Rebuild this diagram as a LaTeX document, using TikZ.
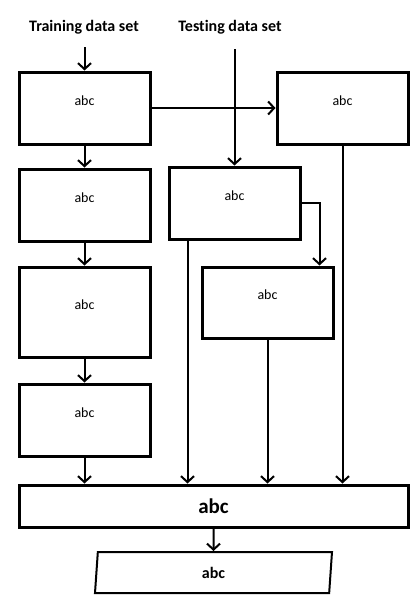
\documentclass[tikz,border=0pt]{standalone}
\usepackage{fontspec}
\setmainfont{Carlito}[Ligatures=NoCommon]
\usetikzlibrary{positioning,arrows.meta,shapes.geometric}
\tikzset{x=1pt, y=-1pt,
  box/.style={draw,rectangle,line width=3pt,minimum width=131pt,minimum height=72pt,inner sep=0pt,
    text height=9pt,text depth=15pt,font=\fontsize{14}{16}\selectfont},
  head/.style={font=\fontsize{16}{18}\selectfont\bfseries},
  arr/.style={line width=2pt,-{Straight Barb[length=6pt,width=13pt,line width=2pt]}}}
\begin{document}
\begin{tikzpicture}
				\useasboundingbox (0,0) rectangle (419,613);

				\node[head] (train) at (84,27) {Training data set};
				\node[head] (test) at (230,27) {Testing data set};
				\coordinate (trainin) at (84.5,47);
				\coordinate (testin) at (234.5,49);

				\node[box] (A) at (84.5,108) {abc};
				\node[box] (B) at (84.5,205) {abc};
				\node[box,minimum height=90pt] (C) at (84.5,312) {abc};
				\node[box] (D) at (84.5,420) {abc};
				\node[box] (R) at (342.5,108) {abc};
				\node[box] (T1) at (234.5,203) {abc};
				\node[box,minimum height=71pt] (T2) at (267.5,302.5) {abc};
				\node[draw,line width=3pt,minimum width=389pt,minimum height=42pt,inner sep=0pt,
				      font=\fontsize{21}{23}\selectfont\bfseries] (out) at (213.5,506) {abc};
				\node[draw,trapezium,trapezium left angle=76,trapezium right angle=104,trapezium stretches body,
				      line width=2pt,minimum width=237pt,minimum height=41pt,inner sep=0pt,
				      font=\fontsize{16}{18}\selectfont\bfseries] (res) at (213.5,572.5) {abc};

				\draw[arr] (trainin) -- (A);
				\draw[arr] (testin) -- (T1);
				\draw[arr] (A) -- (B);
				\draw[arr] (B) -- (C);
				\draw[arr] (C) -- (D);
				\draw[arr] (D) -- (D.south |- out.north);
				\draw[arr] (A) -- (R);
				\draw[arr] (T1.east) -| ([xshift=-15pt]T2.north east);
				\draw[arr] ([xshift=20pt]T1.south west) -- ([xshift=20pt]T1.south west |- out.north);
				\draw[arr] (T2) -- (T2.south |- out.north);
				\draw[arr] (R) -- (R.south |- out.north);
				\draw[arr] (out) -- (res);

			\end{tikzpicture}
\end{document}
